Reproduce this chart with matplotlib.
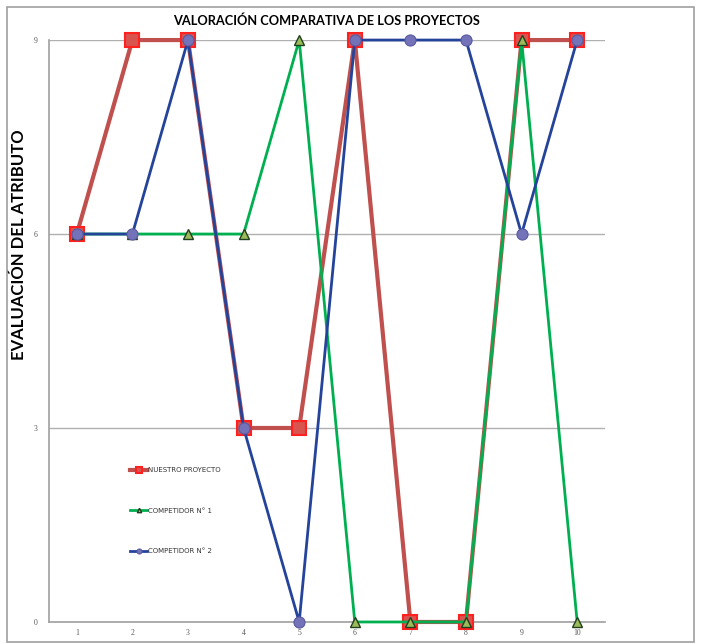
import matplotlib
matplotlib.use('Agg')
import matplotlib.pyplot as plt
from matplotlib.patches import Rectangle

# datos
proyectos = [1, 2, 3, 4, 5, 6, 7, 8, 9, 10]
nuestro_proyecto = [6, 9, 9, 3, 3, 9, 0, 0, 9, 9]
competidor_1 = [6, 6, 6, 6, 9, 0, 0, 0, 9, 0]
competidor_2 = [6, 6, 9, 3, 0, 9, 9, 9, 6, 9]
y_ticks = [0, 3, 6, 9]

fig = plt.figure(figsize=(7.06, 6.44), dpi=100)
ax = fig.add_axes([0.0694, 0.0342, 0.7875, 0.9036])

# marco gris alrededor de la figura
fig.patches.append(Rectangle((0.010, 0.003), 0.973, 0.986, transform=fig.transFigure,
                             fill=False, edgecolor='#a0a0a0', linewidth=1.2))

ax.plot(proyectos, nuestro_proyecto, color='#c0504d', linewidth=3.0, marker='s', markersize=10,
        markerfacecolor='#d9534f', markeredgecolor='#ff2020', markeredgewidth=1.5,
        label='NUESTRO PROYECTO', zorder=3, clip_on=False)
ax.plot(proyectos, competidor_1, color='#00b050', linewidth=2, marker='^', markersize=7,
        markerfacecolor='#9bbb59', markeredgecolor='#1f3f1f', markeredgewidth=1,
        label='COMPETIDOR N° 1', zorder=4, clip_on=False)
ax.plot(proyectos, competidor_2, color='#24439a', linewidth=2, marker='o', markersize=8,
        markerfacecolor='#7472b8', markeredgecolor='#5a5aa0', markeredgewidth=0.8,
        label='COMPETIDOR N° 2', zorder=5, clip_on=False)

ax.set_xlim(0.5, 10.5)
ax.set_ylim(0, 9)
ax.set_xticks(proyectos)
ax.set_yticks(y_ticks)
ax.tick_params(length=0, labelsize=5.5, colors='#555555')
ax.tick_params(axis='x', pad=5)
ax.tick_params(axis='y', pad=8)
for lab in ax.get_xticklabels() + ax.get_yticklabels():
    lab.set_family('Liberation Serif')

ax.grid(True, axis='y', color='#b0b0b0', linewidth=1)
ax.set_axisbelow(True)
for s in ['top', 'right']:
    ax.spines[s].set_visible(False)
for s in ['left', 'bottom']:
    ax.spines[s].set_color('#a0a0a0')
    ax.spines[s].set_linewidth(1.2)

ax.set_title('VALORACIÓN COMPARATIVA DE LOS PROYECTOS', fontsize=9.2, fontweight='bold',
             family='Lato', pad=11)
ax.set_ylabel('EVALUACIÓN DEL ATRIBUTO', fontsize=12, fontweight='bold', family='Lato')
ax.yaxis.set_label_coords(-0.04, 0.648)

leg = ax.legend(loc='upper left', bbox_to_anchor=(0.135, 0.277), frameon=False,
                fontsize=5, labelspacing=5.0, handlelength=2.4, handletextpad=0.1,
                markerscale=0.45)
for t in leg.get_texts():
    t.set_color('#333333')

plt.savefig('out.png', dpi=100)
plt.close(fig)
